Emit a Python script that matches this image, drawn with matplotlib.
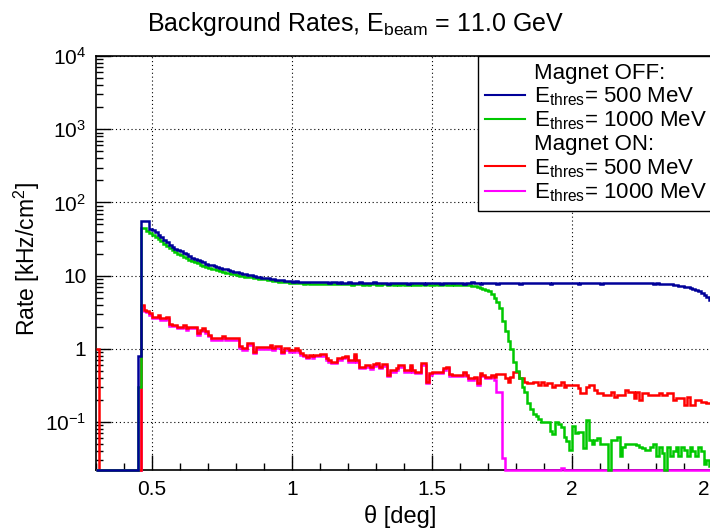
import numpy as np
import matplotlib
matplotlib.use("Agg")
import matplotlib.pyplot as plt
from matplotlib.lines import Line2D
from matplotlib.ticker import FixedLocator, NullFormatter

plt.rcParams['font.family'] = ['Liberation Sans', 'DejaVu Sans']
plt.rcParams['mathtext.fontset'] = 'custom'
plt.rcParams['mathtext.rm'] = 'Liberation Sans'
plt.rcParams['mathtext.it'] = 'Liberation Sans:italic'

# histogram binning: 0.01 deg bins from 0.30 to 2.50 deg
theta_lo, theta_hi, n_bins = 0.30, 2.50, 220

# Magnet OFF, E_thres = 500 MeV
rate_off_500 = [
    0, 0, 0, 0, 0, 0, 0, 0, 0, 0, 0, 0, 0, 0, 0,
    0.8,
    56, 56, 55, 44, 42, 39, 36, 34, 31, 28.5,
    26.5, 25, 23.5, 22.5, 21.5, 20.5, 19.5, 18.5, 17.7, 17.0,
    16.4, 15.8, 15.2, 14.6, 14.2, 13.9, 13.5, 13.2, 12.9, 12.5,
    12.2, 11.9, 11.6, 11.4, 11.1, 10.9, 10.6, 10.4, 10.3, 10.1,
    9.9, 9.7, 9.6, 9.4, 9.3, 9.2, 9.0, 8.9, 8.8, 8.7,
    8.6, 8.5, 8.5, 8.4, 8.3, 8.4, 8.3, 8.3, 8.2, 8.3,
    8.2, 8.2, 8.1, 8.2, 8.1, 8.1, 8.2, 8.0, 8.1, 8.1,
    8.0, 8.1, 8.0, 8.0, 8.1, 7.9, 8.0, 8.0, 8.1, 7.9,
    8.0, 7.9, 8.0, 8.1, 7.9, 7.9, 8.0, 8.0, 7.8, 8.0,
    7.9, 8.0, 7.9, 8.0, 7.9, 7.8, 8.0, 8.0, 7.9, 7.9,
    8.0, 7.8, 8.0, 7.9, 7.9, 8.0, 7.9, 7.8, 8.0, 7.9,
    7.9, 8.0, 7.9, 7.9, 8.0, 7.8, 7.9, 8.0, 8.1, 7.9,
    7.9, 7.8, 8.0, 8.0, 7.9, 8.0, 7.9, 7.8, 7.9, 8.0,
    8.0, 7.9, 8.0, 7.9, 7.9, 7.8, 7.9, 8.0, 7.9, 7.9,
    8.0, 7.9, 7.9, 8.0, 7.9, 7.9, 7.8, 7.9, 8.0, 8.0,
    7.9, 8.0, 7.9, 8.0, 8.0, 7.9, 7.8, 7.9, 7.9, 8.0,
    7.9, 7.9, 8.0, 7.9, 7.8, 7.9, 7.9, 8.0, 7.9, 7.9,
    8.0, 7.9, 7.9, 7.9, 8.0, 7.9, 7.9, 7.9, 7.9, 7.9,
    7.9, 7.9, 7.9, 7.8, 7.9, 7.8, 7.8, 7.7, 7.7, 7.6,
    7.5, 7.4, 7.3, 7.2, 7.0, 6.9, 6.7, 6.5, 6.3, 6.1,
    5.8, 5.5, 5.1, 4.7,
]

# Magnet OFF, E_thres = 1000 MeV
rate_off_1000 = [
    0, 0, 0, 0, 0, 0, 0, 0, 0, 0, 0, 0, 0, 0, 0,
    0.3,
    45, 45, 41, 38, 36, 34, 31.5, 29.5, 27.5, 25.5,
    24, 22.5, 21, 20, 19, 18.2, 17.4, 16.6, 15.9, 15.3,
    14.7, 14.2, 13.7, 13.3, 12.9, 12.5, 12.2, 11.9, 11.6, 11.3,
    11.0, 10.8, 10.6, 10.4, 10.2, 10.0, 9.8, 9.7, 9.6, 9.5,
    9.4, 9.2, 9.1, 9.0, 8.9, 8.8, 8.6, 8.5, 8.4, 8.3,
    8.2, 8.1, 8.1, 8.0, 7.9, 8.0, 7.9, 7.9, 7.8, 7.9,
    7.8, 7.8, 7.7, 7.8, 7.7, 7.7, 7.8, 7.6, 7.7, 7.7,
    7.6, 7.7, 7.6, 7.6, 7.7, 7.5, 7.6, 7.6, 7.7, 7.5,
    7.6, 7.5, 7.6, 7.7, 7.5, 7.4, 7.6, 7.6, 7.4, 7.6,
    7.5, 7.6, 7.5, 7.6, 7.5, 7.4, 7.6, 7.5, 7.5, 7.5,
    7.6, 7.4, 7.6, 7.5, 7.5, 7.6, 7.5, 7.4, 7.6, 7.5,
    7.5, 7.6, 7.5, 7.5, 7.5, 7.4, 7.5, 7.5, 7.3, 7.2,
    7.0, 6.8, 6.6, 6.4, 6.1, 5.6, 5.0, 4.4, 3.6, 2.4,
    1.75, 1.3, 1.0, 0.67, 0.5, 0.4, 0.3, 0.26, 0.18, 0.15,
    0.13, 0.12, 0.11, 0.10, 0.10, 0.10, 0.075, 0.068, 0.10, 0.095,
    0.085, 0.063, 0.055, 0.041, 0.088, 0.07, 0.074, 0.074, 0.045, 0.106,
    0.057, 0.05, 0.057, 0.06, 0.051, 0.051, 0.051, 0, 0.057, 0.057,
    0.063, 0.035, 0.046, 0.05, 0.051, 0.051, 0.051, 0.048, 0.046, 0.044,
    0.041, 0.041, 0.046, 0.05, 0.035, 0.046, 0.038, 0, 0.046, 0.034,
    0.04, 0.046, 0.034, 0.046, 0.041, 0.034, 0.046, 0.04, 0.034, 0.046,
    0.04, 0.027, 0.03, 0.025,
]

# Magnet ON, E_thres = 500 MeV
rate_on_500 = [
    1.0,
    0, 0, 0, 0, 0, 0, 0, 0, 0, 0, 0, 0, 0, 0, 0,
    4.0, 3.42, 3.3, 3.08, 2.77, 2.77, 2.86, 2.63, 2.63, 2.72,
    2.18, 2.13, 2.13, 2.02, 2.02, 2.09, 1.92, 2.02, 2.02, 2.02,
    1.64, 1.82, 1.92, 1.73, 1.55, 1.40, 1.40, 1.40, 1.40, 1.48,
    1.40, 1.40, 1.40, 1.40, 1.40, 1.08, 1.02, 1.02, 1.20, 1.20,
    0.92, 1.06, 1.06, 1.06, 1.06, 1.06, 1.135, 1.02, 1.08, 1.08,
    0.92, 1.02, 1.02, 0.97, 0.97, 1.02, 0.97, 0.87, 0.83, 0.785,
    0.83, 0.80, 0.828, 0.828, 0.845, 0.845, 0.745, 0.70, 0.67, 0.67,
    0.745, 0.745, 0.785, 0.81, 0.706, 0.706, 0.845, 0.706, 0.573, 0.573,
    0.604, 0.604, 0.56, 0.617, 0.637, 0.573, 0.617, 0.617, 0.44, 0.516,
    0.516, 0.544, 0.604, 0.604, 0.516, 0.516, 0.604, 0.516, 0.489, 0.489,
    0.637, 0.637, 0.357, 0.464, 0.489, 0.489, 0.489, 0.489, 0.544, 0.573,
    0.45, 0.44, 0.44, 0.44, 0.44, 0.489, 0.44, 0.396, 0.396, 0.418,
    0.338, 0.464, 0.44, 0.418, 0.418, 0.44, 0.418, 0.45, 0.45, 0.45,
    0.40, 0.357, 0.418, 0.479, 0.479, 0.40, 0.40, 0.357, 0.339, 0.339,
    0.357, 0.357, 0.321, 0.357, 0.321, 0.339, 0.339, 0.305, 0.321, 0.321,
    0.357, 0.305, 0.321, 0.321, 0.321, 0.321, 0.289, 0.247, 0.247, 0.305,
    0.321, 0.321, 0.274, 0.247, 0.247, 0.234, 0.234, 0.234, 0.26, 0.222,
    0.234, 0.234, 0.234, 0.274, 0.26, 0.26, 0.211, 0.26, 0.20, 0.247,
    0.247, 0.234, 0.234, 0.234, 0.234, 0.247, 0.234, 0.234, 0.247, 0.247,
    0.20, 0.211, 0.211, 0.211, 0.171, 0.222, 0.171, 0.171, 0.20, 0.20,
    0.19, 0.19, 0.18, 0.18,
]

# Magnet ON, E_thres = 1000 MeV
rate_on_1000 = [
    0,
    0, 0, 0, 0, 0, 0, 0, 0, 0, 0, 0, 0, 0, 0, 0,
    3.8, 3.25, 3.15, 2.95, 2.65, 2.65, 2.72, 2.5, 2.5, 2.6,
    2.08, 2.03, 2.03, 1.93, 1.93, 2.0, 1.83, 1.93, 1.93, 1.93,
    1.55, 1.73, 1.83, 1.65, 1.48, 1.33, 1.33, 1.33, 1.33, 1.41,
    1.33, 1.33, 1.33, 1.33, 1.33, 1.03, 0.97, 0.97, 1.14, 1.14,
    0.88, 1.01, 1.01, 1.01, 1.01, 1.01, 1.08, 0.97, 1.03, 1.03,
    0.87, 0.97, 0.97, 0.92, 0.92, 0.97, 0.92, 0.83, 0.79, 0.75,
    0.79, 0.76, 0.79, 0.79, 0.80, 0.80, 0.71, 0.67, 0.64, 0.64,
    0.71, 0.71, 0.75, 0.77, 0.67, 0.67, 0.80, 0.67, 0.545, 0.545,
    0.575, 0.575, 0.53, 0.585, 0.605, 0.545, 0.585, 0.585, 0.42, 0.49,
    0.49, 0.52, 0.575, 0.575, 0.49, 0.49, 0.575, 0.49, 0.465, 0.465,
    0.605, 0.605, 0.34, 0.44, 0.465, 0.465, 0.465, 0.465, 0.52, 0.545,
    0.43, 0.42, 0.42, 0.42, 0.42, 0.465, 0.42, 0.375, 0.375, 0.40,
    0.32, 0.44, 0.42, 0.40, 0.40, 0.42, 0.376, 0.26, 0.26, 0.032,
    0, 0, 0, 0, 0, 0, 0, 0, 0, 0,
    0, 0, 0, 0, 0, 0, 0, 0, 0, 0,
    0.0235, 0, 0, 0, 0, 0, 0, 0, 0, 0,
    0, 0, 0, 0, 0, 0, 0, 0, 0, 0,
    0, 0, 0, 0, 0, 0, 0, 0, 0, 0,
    0, 0, 0, 0, 0, 0, 0, 0, 0, 0,
    0, 0, 0, 0, 0, 0, 0, 0, 0, 0,
    0, 0, 0, 0,
]

x_ticks = [0.5, 1.0, 1.5, 2.0, 2.5]
x_ticklabels = ["0.5", "1", "1.5", "2", "2.5"]
y_ticks = [0.1, 1, 10, 100, 1000, 10000]
y_ticklabels = [r"$10^{-1}$", "1", "10", r"$10^{2}$", r"$10^{3}$", r"$10^{4}$"]
y_min, y_max = 0.0222, 1.0e4

series = [
    (rate_on_1000, "#ff00ff"),
    (rate_on_500, "#ff0000"),
    (rate_off_1000, "#00c800"),
    (rate_off_500, "#000099"),
]

edges = np.linspace(theta_lo, theta_hi, n_bins + 1)

fig = plt.figure(figsize=(7.1, 5.3), dpi=100)
ax = fig.add_axes([96 / 710, 60 / 530, 616 / 710, 414 / 530])

for vals, col in series:
    v = np.asarray(vals, dtype=float)
    v = np.where(v > 0, v, y_min)  # empty bins sit on the frame like in ROOT
    ax.stairs(v, edges, baseline=None, color=col, lw=1.8, clip_on=False, zorder=3)

ax.set_yscale("log")
ax.set_xlim(theta_lo, theta_hi)
ax.set_ylim(y_min, y_max)

ax.xaxis.set_major_locator(FixedLocator(x_ticks))
ax.set_xticklabels(x_ticklabels)
ax.xaxis.set_minor_locator(FixedLocator(np.arange(0.3, 2.51, 0.1)))
ax.yaxis.set_major_locator(FixedLocator(y_ticks))
ax.set_yticklabels(y_ticklabels)
minors = [m * 10.0 ** e for e in range(-2, 4) for m in range(2, 10)]
ax.yaxis.set_minor_locator(FixedLocator(minors))
ax.yaxis.set_minor_formatter(NullFormatter())

ax.tick_params(which="both", direction="in", labelsize=15, width=1)
ax.tick_params(which="major", length=11, pad=7)
ax.tick_params(which="minor", length=5)
ax.grid(True, which="major", color="black", linestyle=(0, (1, 2.5)), linewidth=0.8)
for s in ax.spines.values():
    s.set_linewidth(1.2)

fig.text(0.5, 1 - 31 / 530, r"Background Rates, E$_{\mathrm{beam}}$ = 11.0 GeV",
         ha="center", va="baseline", fontsize=18)
fig.text(26.5 / 710, 1 - 259 / 530, r"Rate [kHz/cm$^{2}$]", rotation=90,
         ha="center", va="center", fontsize=16.5)
fig.text(400 / 710, 1 - 516 / 530, "θ [deg]", ha="center", va="center", fontsize=17)

handles = [
    Line2D([], [], color="none"),
    Line2D([], [], color="#000099", lw=1.5),
    Line2D([], [], color="#00c800", lw=1.5),
    Line2D([], [], color="none"),
    Line2D([], [], color="#ff0000", lw=1.5),
    Line2D([], [], color="#ff00ff", lw=1.5),
]
labels = [
    "Magnet OFF:",
    r"E$_{\mathrm{thres}}$= 500 MeV",
    r"E$_{\mathrm{thres}}$= 1000 MeV",
    "Magnet ON:",
    r"E$_{\mathrm{thres}}$= 500 MeV",
    r"E$_{\mathrm{thres}}$= 1000 MeV",
]
# legend box runs past the right edge of the canvas, as in the original
leg = ax.legend(handles, labels, loc="upper left", mode="expand",
                bbox_to_anchor=((478 - 96) / 616, 0.0, 0.40, 1.0),
                borderaxespad=0, fancybox=False, framealpha=1, edgecolor="black",
                fontsize=16, handlelength=1.8, handletextpad=0.4,
                labelspacing=0.08, borderpad=0.3)
leg.get_frame().set_linewidth(1.0)
leg.set_zorder(5)

fig.savefig("out.png", dpi=100)
